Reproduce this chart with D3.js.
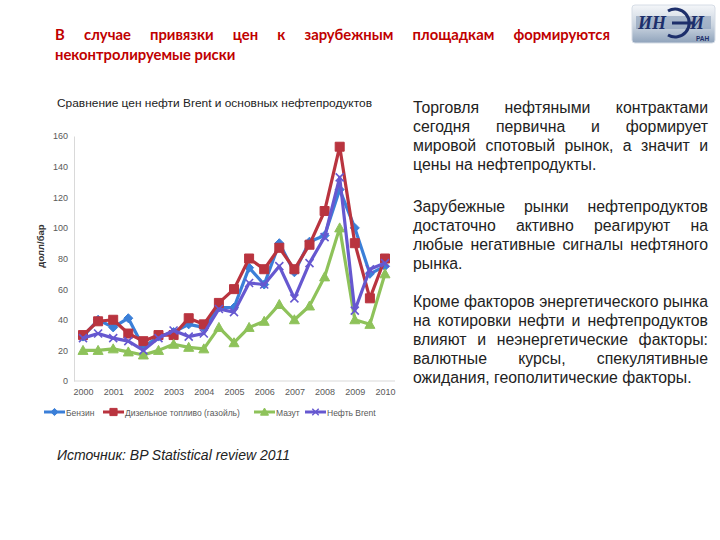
<!DOCTYPE html>
<html>
<head>
<meta charset="utf-8">
<script src="https://cdn.jsdelivr.net/npm/d3@7"></script>
<style>
  body { margin: 0; background: #fff; }
  svg { display: block; }
</style>
</head>
<body>
<div id="slide"></div>
<script>
// half-year points 2000 .. 2010
var periods = d3.range(21);
var yearLabels = ["2000", "2001", "2002", "2003", "2004", "2005", "2006", "2007", "2008", "2009", "2010"];
var yTicks = [0, 20, 40, 60, 80, 100, 120, 140, 160];

var benzin = [29, 40, 35, 41, 22, 29, 32, 37, 35, 48, 48, 74, 63, 90, 71, 91, 95, 125, 100, 70, 75];
var diesel = [30, 39, 40, 31, 26, 30, 30, 41, 37, 51, 60, 80, 73, 87, 73, 89, 111, 153, 90, 54, 80];
var mazut  = [20, 20, 21, 19, 17, 20, 24, 22, 21, 35, 25, 35, 39, 50, 40, 49, 68, 100, 40, 37, 70];
var brent  = [28, 31, 28, 26, 20, 28, 33, 29, 31, 47, 45, 64, 63, 75, 54, 77, 94, 133, 46, 73, 77];

var seriesNames = ["Бензин", "Дизельное топливо (газойль)", "Мазут", "Нефть Brent"];

var para1 = ["Торговля нефтяными контрактами", "сегодня первична и формирует",
             "мировой спотовый рынок, а значит и", "цены на нефтепродукты."];
var para2 = ["Зарубежные рынки нефтепродуктов", "достаточно активно реагируют на",
             "любые негативные сигналы нефтяного", "рынка."];
var para3 = ["Кроме факторов энергетического рынка", "на котировки нефти и нефтепродуктов",
             "влияют и неэнергетические факторы:", "валютные курсы, спекулятивные",
             "ожидания, геополитические факторы."];

var series = [
  { name: seriesNames[0], values: benzin, color: "#3b7fd8", marker: "diamond" },
  { name: seriesNames[1], values: diesel, color: "#b9343f", marker: "square" },
  { name: seriesNames[2], values: mazut,  color: "#8ec25a", marker: "triangle" },
  { name: seriesNames[3], values: brent,  color: "#6658d0", marker: "x" }
];

var svg = d3.select("#slide").append("svg")
  .attr("width", 720)
  .attr("height", 540);

// justified line of words between x0 and x1
function placeLine(g, line, x0, x1, y, justify, cls) {
  var words = line.split(" ");
  var nodes = words.map(function (w) {
    return g.append("text").attr("class", cls).attr("y", y).text(w);
  });
  var widths = nodes.map(function (n) { return n.node().getComputedTextLength(); });
  var total = d3.sum(widths);
  var sp = g.append("text").attr("class", cls).text("\u00a0");
  var space = sp.node().getComputedTextLength();
  sp.remove();
  var gap = justify && words.length > 1 ? (x1 - x0 - total) / (words.length - 1) : space;
  gap = Math.max(gap, space * 0.6);
  var x = x0;
  nodes.forEach(function (n, i) {
    n.attr("x", x);
    x += widths[i] + gap;
  });
}

// body font size: tightest line of the column fills it with plain spaces
var probe = svg.append("text")
  .style("font-family", "'Liberation Sans', Arial, sans-serif")
  .style("font-size", "10px")
  .text(para3[0]);
var bodySize = Math.min(16, 10 * 295 / probe.node().getComputedTextLength());
probe.remove();

svg.append("style").text(
  ".ttl { font-family: Lato, 'Open Sans', sans-serif; font-weight: bold; font-size: 14.8px; fill: #c00000; }" +
  ".body { font-family: 'Liberation Sans', Arial, sans-serif; font-size: " + bodySize.toFixed(2) + "px; fill: #222; }"
);

// heading
var head = svg.append("g");
placeLine(head, "В случае привязки цен к зарубежным площадкам формируются", 55, 610, 40, true, "ttl");
placeLine(head, "неконтролируемые риски", 55, 610, 60, false, "ttl");

// logo
var defs = svg.append("defs");
var grad = defs.append("linearGradient").attr("id", "logoGrad")
  .attr("x1", 0).attr("y1", 0).attr("x2", 0).attr("y2", 1);
grad.append("stop").attr("offset", "0%").attr("stop-color", "#f4f6f9");
grad.append("stop").attr("offset", "55%").attr("stop-color", "#c9d3df");
grad.append("stop").attr("offset", "100%").attr("stop-color", "#8fa3bb");

var logo = svg.append("g").attr("transform", "translate(632,5)");
logo.append("rect").attr("width", 83).attr("height", 38).attr("rx", 3)
  .attr("fill", "url(#logoGrad)").attr("stroke", "#d6dde6");
logo.append("rect").attr("x", 4).attr("y", 11).attr("width", 75).attr("height", 13)
  .attr("fill", "#7f96b3").attr("opacity", 0.55);
logo.append("text").attr("x", 6).attr("y", 24)
  .style("font-family", "'Liberation Serif', serif").style("font-weight", "bold")
  .style("font-style", "italic").style("font-size", "18px").attr("fill", "#1d2f6b")
  .text("ИН");
logo.append("path")
  .attr("d", "M36,6 A14,14 0 1 1 36,30 M40,18 L62,18")
  .attr("fill", "none").attr("stroke", "#1d2f6b").attr("stroke-width", 3);
logo.append("text").attr("x", 58).attr("y", 24)
  .style("font-family", "'Liberation Serif', serif").style("font-weight", "bold")
  .style("font-style", "italic").style("font-size", "18px").attr("fill", "#1d2f6b")
  .text("И");
logo.append("text").attr("x", 64).attr("y", 36)
  .style("font-family", "'Liberation Sans', sans-serif").style("font-weight", "bold")
  .style("font-size", "6.5px").attr("fill", "#1d2f6b")
  .text("РАН");

// chart
var x = d3.scalePoint().domain(periods).range([83, 385]);
var y = d3.scaleLinear().domain([0, 160]).range([381, 136]);

var chart = svg.append("g");

chart.append("text")
  .attr("x", 57).attr("y", 107)
  .attr("textLength", 315).attr("lengthAdjust", "spacingAndGlyphs")
  .style("font-family", "'Liberation Sans', Arial, sans-serif")
  .style("font-size", "10.5px").attr("fill", "#222")
  .text("Сравнение цен нефти Brent и основных нефтепродуктов");

var yAxis = chart.append("g")
  .attr("transform", "translate(74,0)")
  .call(d3.axisLeft(y).tickValues(yTicks).tickSize(0).tickPadding(6));
yAxis.select(".domain").attr("stroke", "#d9d9d9");
yAxis.selectAll("text")
  .style("font-family", "'Liberation Sans', Arial, sans-serif")
  .style("font-size", "9px").attr("fill", "#595959");

var xAxis = chart.append("g")
  .attr("transform", "translate(0,381)")
  .call(d3.axisBottom(x)
    .tickValues(periods.filter(function (p) { return p % 2 === 0; }))
    .tickFormat(function (p) { return yearLabels[p / 2]; })
    .tickSize(0).tickPadding(8));
xAxis.select(".domain").attr("d", "M74,0H395").attr("stroke", "#d9d9d9");
xAxis.selectAll("text")
  .style("font-family", "'Liberation Sans', Arial, sans-serif")
  .style("font-size", "9px").attr("fill", "#595959");

chart.append("text")
  .attr("transform", "translate(44,246) rotate(-90)")
  .attr("text-anchor", "middle")
  .style("font-family", "'Liberation Sans', Arial, sans-serif")
  .style("font-weight", "bold").style("font-size", "9.5px").attr("fill", "#333")
  .text("долл/бар");

function markerPath(type, s) {
  if (type === "diamond") return "M0," + (-s) + "L" + s + ",0L0," + s + "L" + (-s) + ",0Z";
  if (type === "square") return "M" + (-s) + "," + (-s) + "h" + 2 * s + "v" + 2 * s + "h" + (-2 * s) + "Z";
  if (type === "triangle") return "M0," + (-s) + "L" + s + "," + (s * 0.8) + "L" + (-s) + "," + (s * 0.8) + "Z";
  return "M" + (-s) + "," + (-s) + "L" + s + "," + s + "M" + s + "," + (-s) + "L" + (-s) + "," + s;
}
var markerSize = { diamond: 4.5, square: 4.5, triangle: 5, x: 4 };

var line = d3.line()
  .x(function (d, i) { return x(i); })
  .y(function (d) { return y(d); });

series.forEach(function (s) {
  var g = chart.append("g");
  g.append("path")
    .datum(s.values)
    .attr("d", line)
    .attr("fill", "none")
    .attr("stroke", s.color)
    .attr("stroke-width", 3.2)
    .attr("stroke-linejoin", "round");
  g.selectAll("path.mk")
    .data(s.values)
    .enter().append("path")
    .attr("class", "mk")
    .attr("transform", function (d, i) { return "translate(" + x(i) + "," + y(d) + ")"; })
    .attr("d", markerPath(s.marker, markerSize[s.marker]))
    .attr("fill", s.marker === "x" ? "none" : s.color)
    .attr("stroke", s.color)
    .attr("stroke-width", s.marker === "x" ? 1.6 : 1);
});

// legend
var legendX = [44, 103, 254, 305];
var legend = chart.append("g").attr("transform", "translate(0,412)");
series.forEach(function (s, i) {
  var lg = legend.append("g").attr("transform", "translate(" + legendX[i] + ",0)");
  lg.append("line").attr("x1", 0).attr("x2", 21).attr("y1", 0).attr("y2", 0)
    .attr("stroke", s.color).attr("stroke-width", 3);
  lg.append("path").attr("transform", "translate(10.5,0)")
    .attr("d", markerPath(s.marker, markerSize[s.marker] * 0.8))
    .attr("fill", s.marker === "x" ? "none" : s.color)
    .attr("stroke", s.color).attr("stroke-width", s.marker === "x" ? 1.4 : 1);
  lg.append("text").attr("x", 22).attr("y", 3.5)
    .style("font-family", "'Liberation Sans', Arial, sans-serif")
    .style("font-size", "8.5px").attr("fill", "#595959")
    .text(s.name);
});

chart.append("text")
  .attr("x", 57).attr("y", 460)
  .style("font-family", "'Liberation Sans', Arial, sans-serif")
  .style("font-style", "italic").style("font-size", "14px").attr("fill", "#222")
  .text("Источник: BP Statistical review 2011");

// right column text
var txt = svg.append("g");
function para(lines, y0) {
  lines.forEach(function (l, i) {
    placeLine(txt, l, 413, 708, y0 + i * 19, i < lines.length - 1, "body");
  });
}
para(para1, 113);
para(para2, 212);
para(para3, 307);
</script>
</body>
</html>
